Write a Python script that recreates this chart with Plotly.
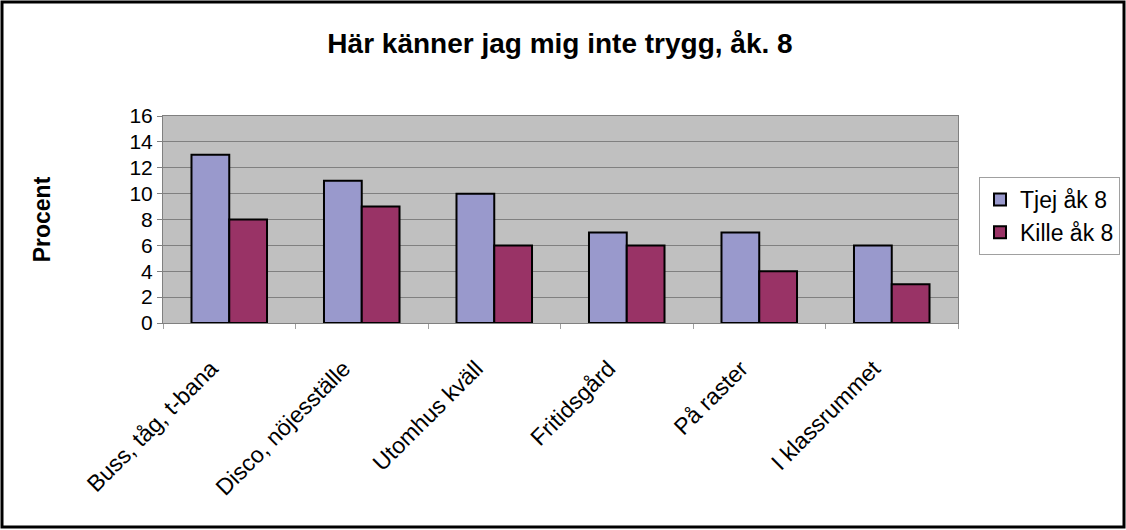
import plotly.graph_objects as go

categories = ["Buss, tåg, t-bana", "Disco, nöjesställe", "Utomhus kväll",
              "Fritidsgård", "På raster", "I klassrummet"]
tjej = [13, 11, 10, 7, 7, 6]
kille = [8, 9, 6, 6, 4, 3]
series_names = ["Tjej åk 8", "Kille åk 8"]
y_ticks = [0, 2, 4, 6, 8, 10, 12, 14, 16]

W, H = 1126, 530
L, R, T, B = 163, 168, 116, 207
pw, ph = W - L - R, H - T - B

fig = go.Figure()
fig.add_trace(go.Bar(x=categories, y=tjej, name=series_names[0],
                     marker=dict(color="#9999CC", line=dict(color="black", width=2))))
fig.add_trace(go.Bar(x=categories, y=kille, name=series_names[1],
                     marker=dict(color="#993366", line=dict(color="black", width=2))))

font = "Liberation Sans, Arial, sans-serif"
fig.update_layout(
    width=W, height=H,
    margin=dict(l=L, r=R, t=T, b=B, autoexpand=False),
    paper_bgcolor="white", plot_bgcolor="#C0C0C0",
    barmode="group", bargap=0.43, bargroupgap=0,
    font=dict(family=font, color="black", size=21),
    title=dict(text="<b>Här känner jag mig inte trygg, åk. 8</b>",
               x=560 / W, xanchor="center", y=1 - 43 / H, yanchor="middle",
               font=dict(size=28, family=font)),
    legend=dict(x=1 + (979 - 958) / pw, xanchor="left", y=1 - (177 - T) / ph, yanchor="top",
                bordercolor="#A0A0A0", borderwidth=1, bgcolor="white",
                font=dict(size=23), tracegroupgap=2, itemwidth=30),
    xaxis=dict(showgrid=False, tickangle=-45, tickson="boundaries", ticks="outside",
               ticklen=5, tickcolor="#A0A0A0", showline=True, linecolor="#808080",
               linewidth=1, mirror=True, tickfont=dict(size=23),
               ticklabelstandoff=22, ticklabelshift=-18),
    yaxis=dict(range=[0, 16], tickvals=y_ticks, showgrid=True, gridcolor="#808080",
               gridwidth=1, ticks="outside", ticklen=5, tickcolor="#808080",
               showline=True, linecolor="#808080", linewidth=1, mirror=True,
               tickfont=dict(size=21), zeroline=False,
               title=dict(text="<b>Procent</b>", font=dict(size=23), standoff=72)),
    showlegend=True,
)

# outer frame around whole figure
fig.add_shape(type="rect", xref="paper", yref="paper",
              x0=-(L - 2) / pw, x1=1 + (R - 2) / pw,
              y0=-(B - 3) / ph, y1=1 + (T - 2) / ph,
              line=dict(color="black", width=3), fillcolor="rgba(0,0,0,0)", layer="above")

fig.write_html("out.html")
